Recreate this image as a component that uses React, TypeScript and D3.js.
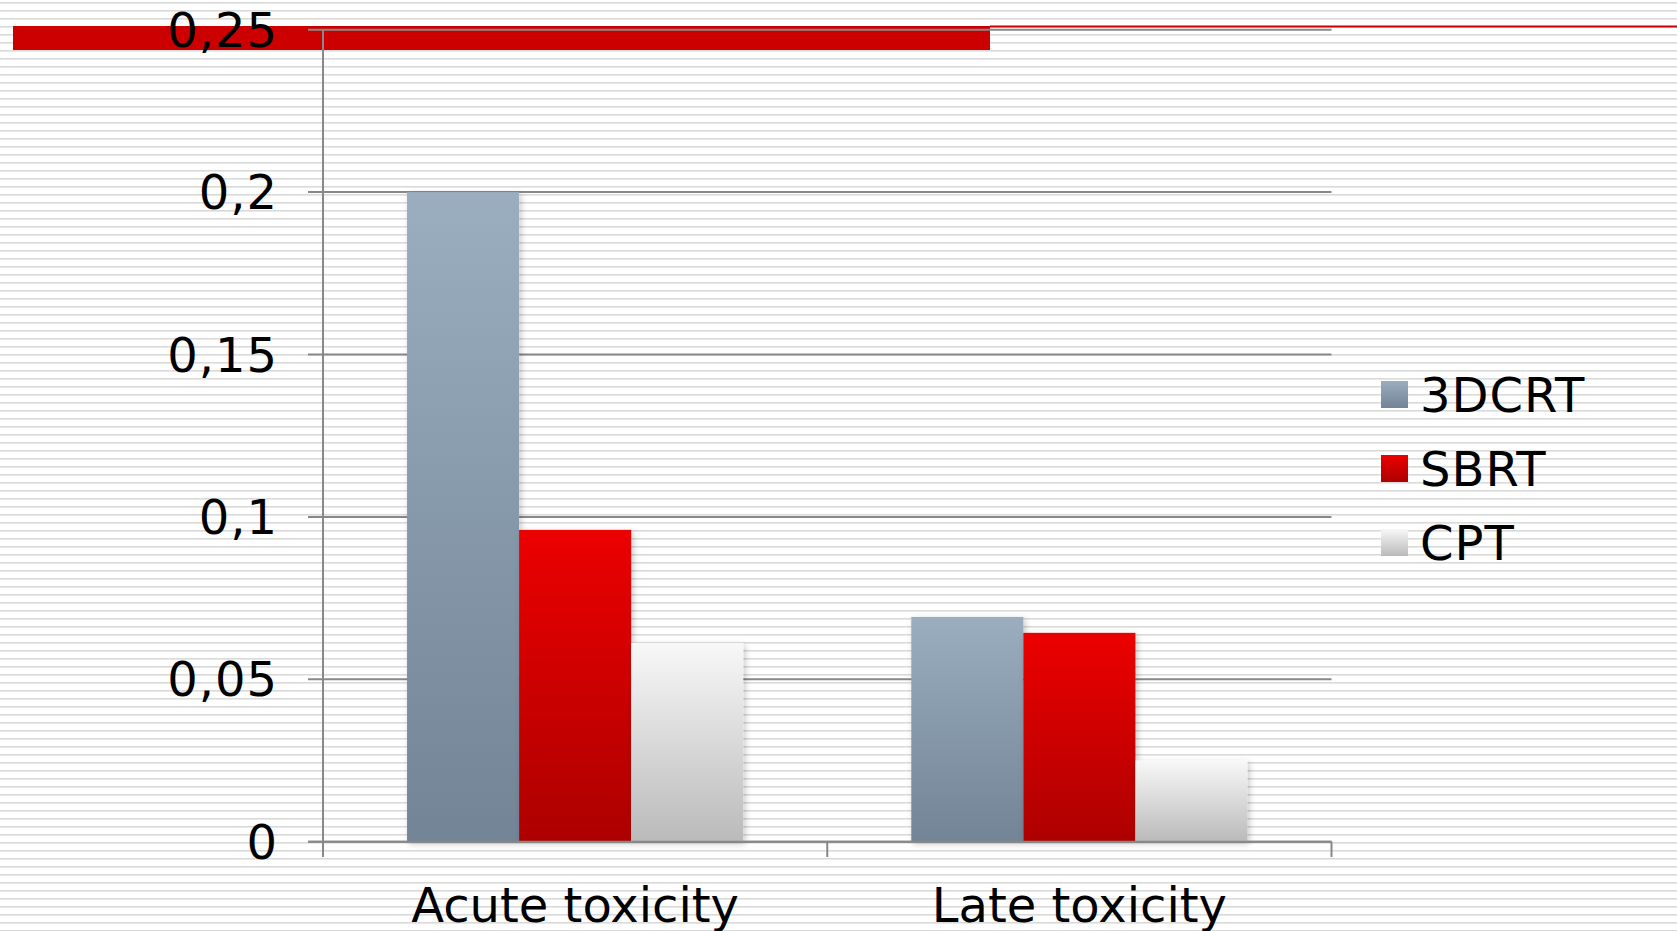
import React from "react";
import * as d3 from "d3";

const categories = ["Acute toxicity", "Late toxicity"];
const seriesNames = ["3DCRT", "SBRT", "CPT"];
const values3DCRT = [0.2, 0.0692];
const valuesSBRT = [0.096, 0.0643];
const valuesCPT = [0.0612, 0.025];
const yTicks = [0, 0.05, 0.1, 0.15, 0.2, 0.25];

const W = 1677;
const H = 931;
const FONT = "'DejaVu Sans', Verdana, sans-serif";

const gradients: Record<string, [string, string]> = {
  "3DCRT": ["#9aaec0", "#728496"],
  SBRT: ["#ec0000", "#ad0000"],
  CPT: ["#f8f8f8", "#bababa"],
};

export default function App() {
  const seriesValues: Record<string, number[]> = {
    "3DCRT": values3DCRT,
    SBRT: valuesSBRT,
    CPT: valuesCPT,
  };
  const y = d3.scaleLinear().domain([0, 0.25]).range([841.7, 29.7]);
  const x0 = d3.scaleBand<string>().domain(categories).range([323, 1331.5]).padding(0);
  const x1 = d3
    .scaleBand<string>()
    .domain(seriesNames)
    .range([0, x0.bandwidth()])
    .paddingInner(0)
    .paddingOuter(0.75);
  const fmt = (v: number) => String(v).replace(".", ",");
  const axisColor = "#888888";
  const xLeft = 323;
  const xRight = 1331.5;

  return (
    <svg
      width={W}
      height={H}
      style={{ position: "absolute", left: 0, top: 0, display: "block" }}
      xmlns="http://www.w3.org/2000/svg"
    >
      <defs>
        <pattern id="stripes" x={0} y={0} width={8} height={8} patternUnits="userSpaceOnUse">
          <rect x={0} y={0} width={8} height={8} fill="#ffffff" />
          <rect x={0} y={2} width={8} height={1.6} fill="#dadada" />
        </pattern>
        {seriesNames.map((s) => (
          <linearGradient key={s} id={`g-${s}`} x1="0" y1="0" x2="0" y2="1">
            <stop offset="0%" stopColor={gradients[s][0]} />
            <stop offset="100%" stopColor={gradients[s][1]} />
          </linearGradient>
        ))}
        <filter id="shadow" x="-20%" y="-20%" width="140%" height="140%">
          <feDropShadow dx={2} dy={2} stdDeviation={3} floodColor="#000" floodOpacity={0.22} />
        </filter>
      </defs>
      <rect x={0} y={0} width={W} height={H} fill="url(#stripes)" />

      {/* header decoration */}
      <rect x={13} y={26} width={977} height={24} fill="#cc0000" />
      <rect x={990} y={25.5} width={W - 990} height={2} fill="#cc0000" />

      {/* gridlines */}
      {yTicks.map((t) => (
        <line
          key={`g${t}`}
          x1={308}
          x2={xRight}
          y1={y(t)}
          y2={y(t)}
          stroke={axisColor}
          strokeWidth={2}
        />
      ))}

      {/* bars */}
      {categories.map((c, ci) => (
        <g key={c} transform={`translate(${x0(c)},0)`}>
          {seriesNames.map((s) => {
            const v = seriesValues[s][ci];
            return (
              <rect
                key={s}
                x={x1(s)}
                y={y(v)}
                width={x1.bandwidth()}
                height={y(0) - y(v)}
                fill={`url(#g-${s})`}
                filter="url(#shadow)"
              />
            );
          })}
        </g>
      ))}

      {/* axes */}
      <line x1={xLeft} x2={xLeft} y1={y(0.25)} y2={857} stroke={axisColor} strokeWidth={2} />
      <line x1={308} x2={xRight} y1={y(0)} y2={y(0)} stroke={axisColor} strokeWidth={2} />
      {categories.map((c) => (
        <line
          key={`t${c}`}
          x1={(x0(c) as number) + x0.bandwidth()}
          x2={(x0(c) as number) + x0.bandwidth()}
          y1={y(0)}
          y2={857}
          stroke={axisColor}
          strokeWidth={2}
        />
      ))}

      {/* y tick labels */}
      {yTicks.map((t) => (
        <text
          key={`l${t}`}
          x={278}
          y={y(t) + 17}
          textAnchor="end"
          fontFamily={FONT}
          fontSize={48}
          letterSpacing={1}
          fill="#000"
        >
          {fmt(t)}
        </text>
      ))}

      {/* x labels */}
      {categories.map((c) => (
        <text
          key={`x${c}`}
          x={(x0(c) as number) + x0.bandwidth() / 2}
          y={922}
          textAnchor="middle"
          fontFamily={FONT}
          fontSize={48}
          fill="#000"
        >
          {c}
        </text>
      ))}

      {/* legend */}
      {seriesNames.map((s, i) => (
        <g key={`leg${s}`} transform={`translate(1381,${381 + i * 74})`}>
          <rect x={0} y={0} width={27} height={27} fill={`url(#g-${s})`} />
          <text x={39} y={31} fontFamily={FONT} fontSize={48} letterSpacing={1} fill="#000">
            {s}
          </text>
        </g>
      ))}
    </svg>
  );
}
